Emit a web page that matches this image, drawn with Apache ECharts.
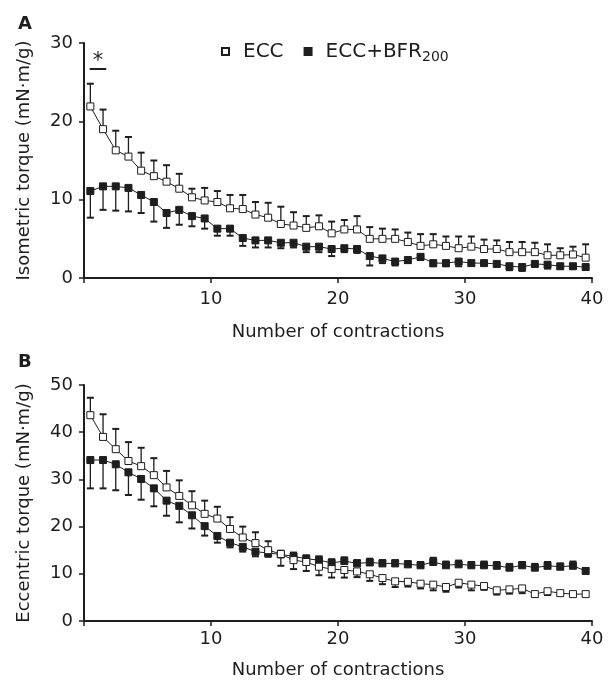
<!DOCTYPE html>
<html>
<head>
<meta charset="utf-8">
<script src="https://cdn.jsdelivr.net/npm/echarts@6/dist/echarts.min.js"></script>
<style>
  html, body { margin: 0; padding: 0; background: #fff; }
  #chart { width: 608px; height: 680px; }
</style>
</head>
<body>
<div id="chart"></div>
<script>
// contraction number (1..40)
var contractions = [1,2,3,4,5,6,7,8,9,10,11,12,13,14,15,16,17,18,19,20,
  21,22,23,24,25,26,27,28,29,30,31,32,33,34,35,36,37,38,39,40];

// A: isometric torque (mN·m/g)
var isoEcc = [21.9,19.0,16.3,15.5,13.7,13.0,12.3,11.4,10.3,9.9,9.7,8.9,8.8,8.1,7.7,6.9,6.7,6.4,6.6,5.7,
  6.2,6.2,5.0,5.0,5.0,4.6,4.1,4.3,4.1,3.8,4.0,3.7,3.7,3.3,3.3,3.3,2.9,2.9,3.0,2.6];
var isoEccErr = [2.9,2.5,2.5,2.5,2.3,2.0,2.1,1.9,1.1,1.6,1.4,1.7,1.8,1.6,1.9,2.2,1.7,1.5,1.4,1.5,
  1.2,1.7,1.5,1.3,1.2,1.2,1.5,1.3,1.2,1.5,1.3,1.2,1.1,1.3,1.3,1.2,1.4,0.9,1.0,1.7];
var isoBfr = [11.1,11.7,11.7,11.5,10.6,9.7,8.3,8.7,7.9,7.6,6.3,6.3,5.1,4.8,4.8,4.5,4.5,4.0,4.0,3.7,
  3.8,3.7,2.8,2.5,2.1,2.3,2.7,1.9,1.9,2.1,1.9,1.9,1.8,1.5,1.4,1.8,1.7,1.5,1.5,1.4];
var isoBfrErr = [3.4,3.0,3.1,3.0,2.3,2.5,1.9,1.9,1.3,1.3,0.9,0.9,1.0,0.9,0.9,0.7,0.6,0.7,0.7,0.9,
  0.5,0.5,1.2,0.6,0.5,0.4,0.4,0.4,0.4,0.6,0.3,0.3,0.3,0.5,0.5,0.3,0.5,0.3,0.3,0.3];

// B: eccentric torque (mN·m/g)
var eccEcc = [43.6,39.0,36.4,33.9,32.8,30.9,28.3,26.5,24.5,22.7,21.7,19.5,17.7,16.5,15.0,14.2,12.9,12.5,11.5,11.0,
  10.8,10.5,9.9,9.1,8.4,8.3,7.9,7.7,7.2,8.1,7.7,7.4,6.5,6.7,6.9,5.7,6.3,5.9,5.7,5.7];
var eccEccErr = [3.7,4.8,4.3,4.0,3.9,3.6,3.5,3.3,3.0,2.8,2.5,2.5,2.3,2.3,1.9,2.5,1.9,1.9,1.8,1.8,
  1.6,1.2,1.4,1.3,1.2,1.0,1.0,1.2,1.0,1.0,1.2,0.8,0.9,0.9,1.0,0.6,0.8,0.5,0.4,0.4];
var eccBfr = [34.1,34.1,33.2,31.5,30.1,28.1,25.5,24.4,22.4,20.1,18.0,16.6,15.7,14.7,14.4,14.1,13.7,13.2,12.9,12.3,
  12.7,12.2,12.4,12.2,12.2,12.0,11.8,12.5,11.8,12.0,11.8,11.8,11.7,11.3,11.8,11.3,11.7,11.5,11.7,10.6];
var eccBfrErr = [6.0,6.0,5.5,4.8,4.4,3.8,3.2,3.5,2.8,2.0,1.4,1.0,1.0,1.0,0.8,0.8,0.8,0.7,0.8,0.8,
  0.8,0.7,0.8,0.7,0.7,0.7,0.7,0.9,0.8,0.8,0.7,0.8,0.8,0.8,0.7,0.8,0.8,0.7,0.9,0.6];
// in B the error bars swap sides from this contraction on
var crossB = 16;

var ink = '#1e1e1e';
var font = 'DejaVu Sans, sans-serif';
var fs = 18;

// points sit in the middle of each contraction slot
function pts(vals) {
  return vals.map(function (v, i) { return [contractions[i] - 0.5, v]; });
}
// [x, value, end of bar]
function bars(vals, errs, upFn) {
  return vals.map(function (v, i) {
    var up = upFn(contractions[i]);
    return [contractions[i] - 0.5, v, up ? v + errs[i] : v - errs[i]];
  });
}

function errRender(params, api) {
  var p0 = api.coord([api.value(0), api.value(1)]);
  var p1 = api.coord([api.value(0), api.value(2)]);
  return {
    type: 'group',
    children: [
      { type: 'line', shape: { x1: p0[0], y1: p0[1], x2: p1[0], y2: p1[1] },
        style: { stroke: ink, lineWidth: 1.3 } },
      { type: 'line', shape: { x1: p1[0] - 3.5, y1: p1[1], x2: p1[0] + 3.5, y2: p1[1] },
        style: { stroke: ink, lineWidth: 2 } }
    ]
  };
}

function errSeries(idx, data) {
  return {
    type: 'custom', xAxisIndex: idx, yAxisIndex: idx, z: 1,
    renderItem: errRender, data: data, silent: true,
    encode: { x: 0, y: [1, 2] }
  };
}

function lineSeries(idx, name, data, fill) {
  return {
    name: name, type: 'line', xAxisIndex: idx, yAxisIndex: idx, z: fill === '#fff' ? 4 : 3,
    data: data, symbol: 'rect', symbolSize: 7, showAllSymbol: true,
    lineStyle: { color: ink, width: 1 },
    itemStyle: { color: fill, borderColor: ink, borderWidth: 1 }
  };
}

function xAx(idx, gap, margin) {
  return {
    type: 'value', gridIndex: idx, min: 0, max: 40, interval: 10,
    name: 'Number of contractions', nameLocation: 'middle', nameGap: gap,
    nameTextStyle: { color: ink, fontSize: fs, fontFamily: font },
    axisLine: { lineStyle: { color: ink, width: 2 } },
    axisTick: { show: true, length: 5, lineStyle: { color: ink, width: 1.5 } },
    axisLabel: { color: ink, fontSize: fs, fontFamily: font, margin: margin,
      formatter: function (v) { return v === 0 ? '' : v; } },
    splitLine: { show: false }
  };
}

function yAx(idx, max, name) {
  return {
    type: 'value', gridIndex: idx, min: 0, max: max, interval: 10,
    name: name, nameLocation: 'middle', nameGap: 51, nameRotate: 90,
    nameTextStyle: { color: ink, fontSize: fs, fontFamily: font },
    axisLine: { show: true, lineStyle: { color: ink, width: 2 } },
    axisTick: { show: true, length: 5, lineStyle: { color: ink, width: 1.5 } },
    axisLabel: { color: ink, fontSize: fs, fontFamily: font, margin: 11 },
    splitLine: { show: false }
  };
}

var chart = echarts.init(document.getElementById('chart'));

var eccA = lineSeries(0, 'ECC', pts(isoEcc), '#fff');
eccA.markLine = {
  silent: true, symbol: 'none', animation: false,
  lineStyle: { color: ink, width: 2, type: 'solid' },
  label: { show: true, position: 'middle', formatter: '*', color: ink,
    fontSize: 21, fontFamily: font, distance: -3 },
  data: [[{ coord: [0.45, 26.7] }, { coord: [1.75, 26.7] }]]
};

chart.setOption({
  animation: false,
  textStyle: { fontFamily: font },
  title: [
    { text: 'A', left: 13, top: 10, textStyle: { color: ink, fontSize: 18, fontWeight: 'bold', fontFamily: font } },
    { text: 'B', left: 13, top: 348, textStyle: { color: ink, fontSize: 18, fontWeight: 'bold', fontFamily: font } }
  ],
  legend: {
    left: 216, top: 34, itemWidth: 7, itemHeight: 7, itemGap: 20, icon: 'rect',
    selectedMode: false,
    data: ['ECC', 'ECC+BFR'],
    formatter: function (n) {
      return n === 'ECC' ? '{n|ECC}' : '{n|ECC+BFR}{s|200}';
    },
    textStyle: {
      color: ink, fontFamily: font, padding: [0, 0, 0, 9],
      rich: {
        n: { fontSize: 20, color: ink, fontFamily: font, lineHeight: 22 },
        s: { fontSize: 14, color: ink, fontFamily: font, lineHeight: 22, padding: [11, 0, 0, 0] }
      }
    }
  },
  grid: [
    { left: 84, right: 16, top: 43, height: 235 },
    { left: 84, right: 16, top: 385, height: 236 }
  ],
  xAxis: [xAx(0, 45, 12), xAx(1, 40, 9)],
  yAxis: [
    yAx(0, 30, 'Isometric torque (mN·m/g)'),
    yAx(1, 50, 'Eccentric torque (mN·m/g)')
  ],
  series: [
    errSeries(0, bars(isoBfr, isoBfrErr, function () { return false; })),
    errSeries(0, bars(isoEcc, isoEccErr, function () { return true; })),
    lineSeries(0, 'ECC+BFR', pts(isoBfr), ink),
    eccA,
    errSeries(1, bars(eccBfr, eccBfrErr, function (c) { return c >= crossB; })),
    errSeries(1, bars(eccEcc, eccEccErr, function (c) { return c < crossB; })),
    lineSeries(1, 'ECC+BFR', pts(eccBfr), ink),
    lineSeries(1, 'ECC', pts(eccEcc), '#fff')
  ]
});
</script>
</body>
</html>
